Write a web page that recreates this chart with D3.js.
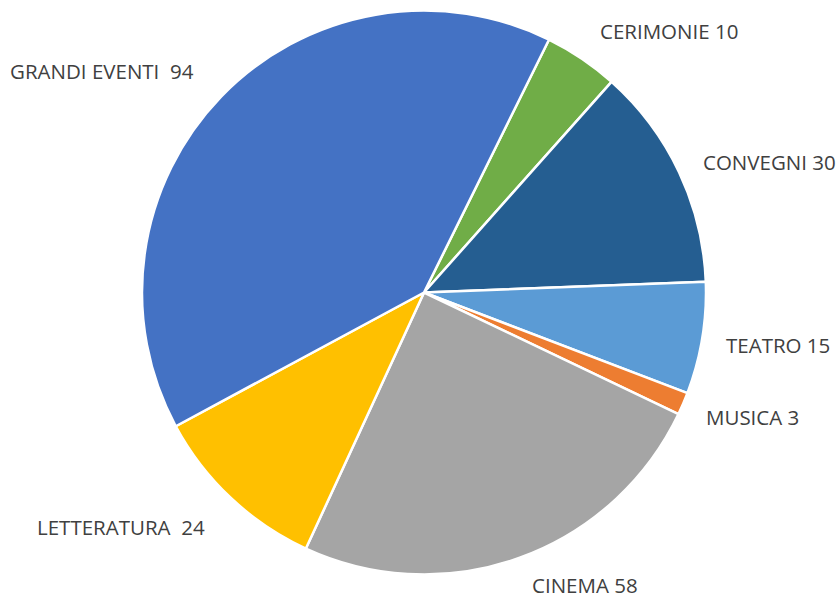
<!DOCTYPE html>
<html><head><meta charset="utf-8">
<script src="https://cdn.jsdelivr.net/npm/d3@7"></script>
<style>body{margin:0;background:#fff}svg{display:block}</style>
</head><body>
<svg id="c" width="840" height="598"></svg>
<script>
const categories = ["CERIMONIE", "CONVEGNI", "TEATRO", "MUSICA", "CINEMA", "LETTERATURA", "GRANDI EVENTI"];
const values = [10, 30, 15, 3, 58, 24, 94];
const labelTexts = ["CERIMONIE 10", "CONVEGNI 30", "TEATRO 15", "MUSICA 3", "CINEMA 58", "LETTERATURA  24", "GRANDI EVENTI  94"];
const colors = ["#70AD47", "#255E91", "#5B9BD5", "#ED7D31", "#A5A5A5", "#FFC000", "#4472C4"];
const labelPos = [[600,39],[703,170],[726,353],[706,425],[532,593],[37,535],[10,79]];

const svg = d3.select("#c");
const cx = 424, cy = 292.5, r = 282;
const start = 26.3 * Math.PI / 180;
const pie = d3.pie().sort(null).startAngle(start).endAngle(start + 2 * Math.PI);
const arc = d3.arc().innerRadius(0).outerRadius(r);
const g = svg.append("g").attr("transform", `translate(${cx},${cy})`);
g.selectAll("path").data(pie(values)).join("path")
  .attr("d", arc).attr("fill", (d, i) => colors[i])
  .attr("stroke", "#fff").attr("stroke-width", 2.5).attr("stroke-linejoin", "round");

svg.selectAll("text.lbl").data(labelTexts).join("text")
  .attr("class", "lbl")
  .attr("x", (d, i) => labelPos[i][0]).attr("y", (d, i) => labelPos[i][1])
  .attr("font-family", "'Open Sans', sans-serif").attr("font-size", 20.5)
  .attr("fill", "#404040").style("white-space", "pre").attr("xml:space", "preserve")
  .text(d => d);
</script>
</body></html>
